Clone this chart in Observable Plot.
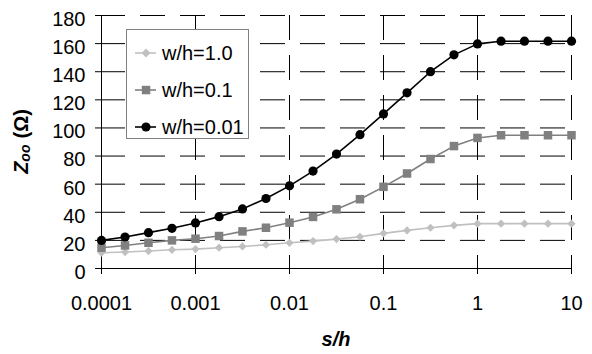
<!DOCTYPE html>
<html><head><meta charset="utf-8">
<script src="https://cdn.jsdelivr.net/npm/d3@7"></script>
<script src="https://cdn.jsdelivr.net/npm/@observablehq/plot@0.6"></script>
<style>
body{margin:0;background:#fff;}
#chart{position:relative;width:592px;height:354px;font-family:"Liberation Sans",Arial,sans-serif;}
#chart svg{display:block;}
.legend{position:absolute;left:126px;top:29px;width:121px;height:108px;border:1px solid #808080;background:#fff;font-size:20px;color:#000;}
.item{position:absolute;left:8px;height:24px;display:flex;align-items:center;white-space:nowrap;}
.item svg{margin-right:6px;}
</style></head><body><div id="chart"></div>
<script>
// s/h values (x)
const sOverH = [0.0001, 0.000178, 0.000316, 0.000562, 0.001, 0.00178, 0.00316, 0.00562, 0.01, 0.0178, 0.0316, 0.0562, 0.1, 0.178, 0.316, 0.562, 1, 1.78, 3.16, 5.62, 10];
// Z_oo (ohm) per series
const zWh1_0  = [11.2, 11.7, 12.4, 13.3, 13.8, 14.8, 15.7, 16.9, 18.3, 19.5, 20.9, 22.6, 25.0, 27.1, 29.0, 30.7, 31.9, 31.9, 31.9, 31.9, 31.9];
const zWh0_1  = [14.8, 16.4, 18.3, 20.0, 21.2, 23.1, 26.4, 29.0, 32.6, 36.7, 42.1, 49.3, 58.1, 67.6, 77.9, 87.1, 92.9, 94.8, 94.8, 94.8, 94.8];
const zWh0_01 = [20.0, 22.4, 25.5, 28.6, 32.4, 36.9, 42.4, 49.8, 58.8, 69.3, 81.4, 95.2, 110.0, 125.0, 140.0, 152.0, 159.8, 161.7, 161.7, 161.7, 161.7];
const seriesNames = ["w/h=1.0", "w/h=0.1", "w/h=0.01"];
const xTicks = [0.0001, 0.001, 0.01, 0.1, 1, 10];
const xTickLabels = ["0.0001", "0.001", "0.01", "0.1", "1", "10"];
const yTicks = [0, 20, 40, 60, 80, 100, 120, 140, 160, 180];

const styles = [
  {color: "#c0c0c0", symbol: "diamond2", r: 3.7},
  {color: "#808080", symbol: "square", r: 4.8},
  {color: "#000000", symbol: "circle", r: 4.6}
];
const seriesValues = [zWh1_0, zWh0_1, zWh0_01];
const rows = [];
seriesValues.forEach((vals, i) => vals.forEach((v, j) => rows.push({s: sOverH[j], z: v, series: seriesNames[i]})));

const W = 592, H = 354, mL = 101, mR = 21, mT = 15, mB = 86;
const font = '"Liberation Sans", Arial, sans-serif';

const marks = [
  Plot.ruleY(yTicks.filter(d => d > 0), {stroke: "#000", strokeWidth: 1, strokeDasharray: "25,15", strokeDashoffset: 1}),
  Plot.ruleX(xTicks.slice(1), {stroke: "#000", strokeWidth: 1, strokeDasharray: "25,15"}),
  Plot.ruleX([xTicks[0]], {stroke: "#000", strokeWidth: 1}),
  Plot.ruleY([0], {stroke: "#000", strokeWidth: 1}),
  Plot.axisY({ticks: yTicks, tickSize: 6, tickFormat: () => "", label: null, stroke: "#000"}),
  Plot.axisY({ticks: yTicks, tickSize: 0, tickPadding: 16, dy: 4, tickFormat: d => String(d), label: null, fill: "#000"}),
  Plot.axisX({ticks: xTicks, tickSize: 6, tickPadding: 21, tickFormat: d => xTickLabels[xTicks.indexOf(d)], label: null, stroke: "#000", fill: "#000"})
];
seriesNames.forEach((name, i) => {
  const st = styles[i];
  const data = rows.filter(d => d.series === name);
  marks.push(Plot.line(data, {x: "s", y: "z", stroke: st.color, strokeWidth: 1.6}));
  marks.push(Plot.dot(data, {x: "s", y: "z", fill: st.color, stroke: "none", symbol: st.symbol, r: st.r}));
});

const plot = Plot.plot({
  width: W, height: H, marginLeft: mL, marginRight: mR, marginTop: mT, marginBottom: mB,
  style: {fontFamily: font, fontSize: "20px", color: "#000", background: "#fff", overflow: "visible"},
  x: {type: "log", domain: [xTicks[0], xTicks[xTicks.length - 1]]},
  y: {domain: [yTicks[0], yTicks[yTicks.length - 1]]},
  marks
});
const chart = document.getElementById("chart");
chart.appendChild(plot);

// axis titles
const svg = d3.select(plot);
svg.append("text")
  .attr("x", (mL + W - mR) / 2).attr("y", 346)
  .attr("text-anchor", "middle")
  .style("font", `italic bold 20px ${font}`)
  .attr("fill", "#000")
  .text("s/h");
const yl = svg.append("text")
  .attr("transform", `translate(28,${(mT + H - mB) / 2}) rotate(-90)`)
  .attr("text-anchor", "middle")
  .style("font", `bold 20px ${font}`)
  .attr("fill", "#000");
yl.append("tspan").style("font-style", "italic").text("Z");
yl.append("tspan").style("font-style", "italic").style("font-size", "14px").attr("dy", 2).text("oo");
yl.append("tspan").attr("dy", -2).attr("dx", 6).text("(\u03A9)");

// legend
const legend = document.createElement("div");
legend.className = "legend";
seriesNames.forEach((name, i) => {
  const st = styles[i];
  const item = document.createElement("div");
  item.className = "item";
  item.style.top = (23 + 37 * i - 12) + "px";
  let marker;
  if (st.symbol === "circle") marker = `<circle cx="11" cy="6" r="4.6" fill="${st.color}"/>`;
  else if (st.symbol === "square") marker = `<rect x="6.8" y="1.8" width="8.5" height="8.5" fill="${st.color}"/>`;
  else marker = `<path d="M11,1.5L15.5,6L11,10.5L6.5,6Z" fill="${st.color}"/>`;
  item.innerHTML = `<svg width="21" height="12"><line x1="0" x2="21" y1="6" y2="6" stroke="${st.color}" stroke-width="1.6"/>${marker}</svg><span>${name}</span>`;
  legend.appendChild(item);
});
chart.appendChild(legend);
</script>
</body></html>
